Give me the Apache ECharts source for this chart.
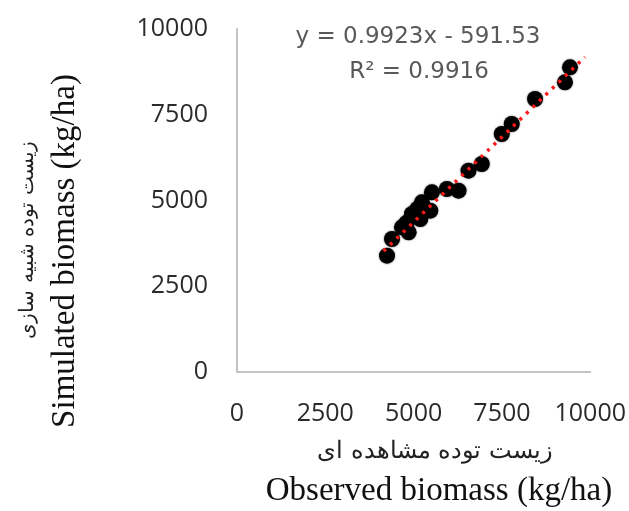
<!DOCTYPE html>
<html>
<head>
<meta charset="utf-8">
<script src="https://cdn.jsdelivr.net/npm/echarts@6/dist/echarts.min.js"></script>
<style>
html,body{margin:0;padding:0;background:#fff;}
#c{width:629px;height:511px;}
</style>
</head>
<body>
<div id="c"></div>
<script>
var observed = [4246, 4388, 4670, 4859, 4953, 5189, 5235, 5471, 5518, 5942, 6271, 6554, 6929, 7495, 7777, 8437, 9284, 9426, 4800, 5100];
var simulated = [3391, 3878, 4219, 4073, 4606, 4461, 4947, 4703, 5239, 5335, 5286, 5869, 6064, 6939, 7230, 7959, 8446, 8883, 4350, 4750];
var trendX = [4150, 9850];
var trendY = [3527, 9183];
var ticks = [0, 2500, 5000, 7500, 10000];
var eqText = 'y = 0.9923x - 591.53';
var r2Text = 'R\u00b2 = 0.9916';
var xTitleFa = 'زیست توده مشاهده ای';
var xTitleEn = 'Observed biomass (kg/ha)';
var yTitleFa = 'زیست توده شبیه سازی';
var yTitleEn = 'Simulated biomass (kg/ha)';

var pts = observed.map(function(v, i){ return [v, simulated[i]]; });
var trend = trendX.map(function(v, i){ return [v, trendY[i]]; });

var chart = echarts.init(document.getElementById('c'));
function axisCfg(margin){
  return {
    type: 'value', min: ticks[0], max: ticks[ticks.length-1], interval: 2500,
    splitLine: {show: false},
    axisTick: {show: false},
    axisLine: {show: true, lineStyle: {color: '#c4c4c4', width: 2}},
    axisLabel: {color: '#2b2b2b', fontSize: 25, fontFamily: 'Open Sans', margin: margin,
      formatter: function(v){ return String(v); }}
  };
}
chart.setOption({
  animation: false,
  grid: {left: 237, right: 38, top: 29, bottom: 139, containLabel: false},
  xAxis: axisCfg(29),
  yAxis: axisCfg(29),
  series: [
    {
      type: 'scatter', data: pts, symbolSize: 16,
      itemStyle: {color: '#000', opacity: 1, shadowBlur: 2, shadowColor: 'rgba(0,0,0,0.6)'}
    },
    {
      type: 'line', data: trend, symbol: 'none', z: 5,
      lineStyle: {color: '#ff1a1a', width: 3.5, type: [3, 6]}
    }
  ],
  graphic: [
    {type: 'text', x: 418, y: 37, style: {text: eqText, fill: '#595959', font: '23px "DejaVu Sans"', align: 'center', verticalAlign: 'middle'}},
    {type: 'text', x: 419, y: 72, style: {text: r2Text, fill: '#595959', font: '23px "DejaVu Sans"', align: 'center', verticalAlign: 'middle'}},
    {type: 'text', x: 435, y: 452, style: {text: xTitleFa, fill: '#222', font: '24px "DejaVu Serif"', align: 'center', verticalAlign: 'middle'}},
    {type: 'text', x: 439, y: 491, style: {text: xTitleEn, fill: '#111', font: '33px "Liberation Serif"', align: 'center', verticalAlign: 'middle'}},
    {type: 'text', x: 28, y: 240, rotation: Math.PI/2, style: {text: yTitleFa, fill: '#222', font: '20px "DejaVu Serif"', align: 'center', verticalAlign: 'middle'}},
    {type: 'text', x: 65, y: 251, rotation: Math.PI/2, style: {text: yTitleEn, fill: '#111', font: '33px "Liberation Serif"', align: 'center', verticalAlign: 'middle'}}
  ]
});
</script>
</body>
</html>
